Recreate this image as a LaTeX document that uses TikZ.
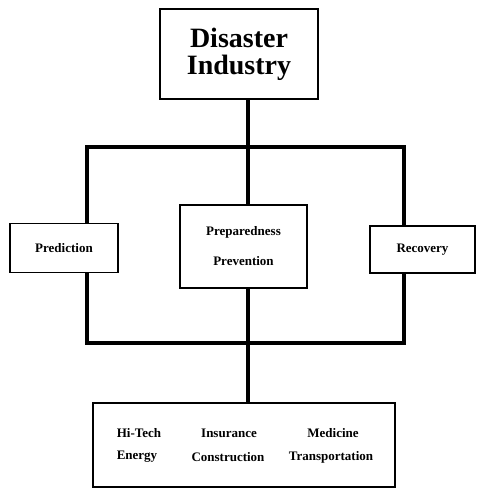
\documentclass[tikz,border=0pt]{standalone}
\usepackage{fontspec}
\setmainfont{Liberation Serif}
\usetikzlibrary{positioning,backgrounds}

\begin{document}
\begin{tikzpicture}[x=1pt,y=-1pt,
    box/.style={draw,rectangle,fill=white,line width=1.2pt,inner sep=0pt,
      font=\bfseries\fontsize{13}{30}\selectfont,align=center},
    word/.style={font=\bfseries\fontsize{13}{15}\selectfont,inner sep=1pt},
    bar/.style={line width=4.5pt}]
  \useasboundingbox (0,0) rectangle (479,492);

  \node[box,minimum width=158,minimum height=90,
    font=\bfseries\fontsize{28}{27}\selectfont] (top) at (239,54) {Disaster\\Industry};

  \foreach \x/\y/\w/\h/\n/\t in {64/248/108/49/pred/Prediction,
    243.5/246.5/127/83/prep/{Preparedness\\Prevention},
    422.5/249.5/105/47/reco/Recovery}
  \node[box,minimum width=\w,minimum height=\h] (\n) at (\x,\y) {\t};

  \node[box,minimum width=302,minimum height=84] (bot) at (244,445) {};
  \foreach \x/\y/\t in {139/433/Hi-Tech, 229/433/Insurance, 333/433/Medicine,
    137/457/Energy, 228/457/Construction, 331/457/Transportation}
  \node[word] (\t) at (\x,\y) {\t};

  \coordinate (ftl) at (87,147);
  \coordinate (fbr) at (404,343);
  \coordinate (spine) at (248,0);

  \begin{scope}[on background layer]
    \draw[bar] (ftl) rectangle (fbr);
    \draw[bar] (spine |- top.south) -- (spine |- prep.north);
    \draw[bar] (spine |- prep.south) -- (spine |- bot.north);
  \end{scope}

\end{tikzpicture}
\end{document}
